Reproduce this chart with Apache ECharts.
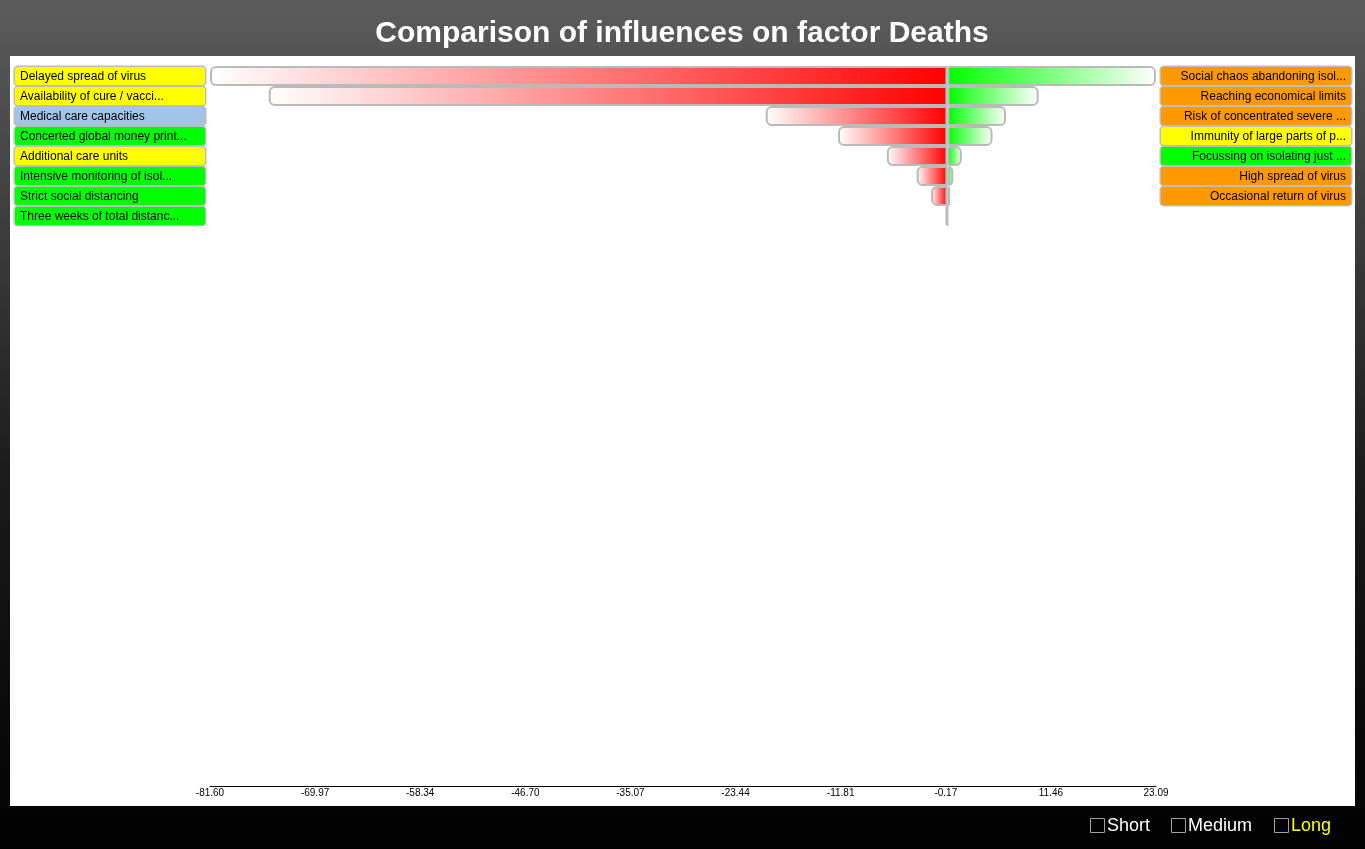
<!DOCTYPE html>
<html>
<head>
<meta charset="utf-8">
<script src="https://cdn.jsdelivr.net/npm/echarts@6/dist/echarts.min.js"></script>
<style>
html,body{margin:0;padding:0;width:1365px;height:849px;overflow:hidden;background:#000;}
#chart{width:1365px;height:849px;}
</style>
</head>
<body>
<div id="chart"></div>
<script>
// ---- data ----
const titleText = 'Comparison of influences on factor Deaths';
const leftCategories = ['Delayed spread of virus', 'Availability of cure / vacci...', 'Medical care capacities', 'Concerted global money print...', 'Additional care units', 'Intensive monitoring of isol...', 'Strict social distancing', 'Three weeks of total distanc...'];
const leftColors = ['yellow', 'yellow', 'blue', 'green', 'yellow', 'green', 'green', 'green'];
const rightCategories = ['Social chaos abandoning isol...', 'Reaching economical limits', 'Risk of concentrated severe ...', 'Immunity of large parts of p...', 'Focussing on isolating just ...', 'High spread of virus', 'Occasional return of virus', ''];
const rightColors = ['orange', 'orange', 'orange', 'yellow', 'green', 'orange', 'orange', 'none'];
const negativeValues = [-81.6, -75.1, -20.1, -12.1, -6.7, -3.4, -1.8, -0.2];
const positiveValues = [23.09, 10.1, 6.5, 5.0, 1.6, 0.65, 0.3, 0.02];
const tickValues = [-81.60, -69.97, -58.34, -46.70, -35.07, -23.44, -11.81, -0.17, 11.46, 23.09];
const tickLabels = ['-81.60', '-69.97', '-58.34', '-46.70', '-35.07', '-23.44', '-11.81', '-0.17', '11.46', '23.09'];
const axisMin = -81.6, axisMax = 23.09;
const toggles = ['Short', 'Medium', 'Long'];
const activeToggle = 'Long';

// ---- styles ----
const palette = {yellow: '#ffff00', blue: '#a2c4e9', green: '#00ff00', orange: '#ff9900'};
const FONT = '"Liberation Sans", Arial, Helvetica, sans-serif';
function richFor(align) {
  const r = {};
  Object.keys(palette).forEach(k => {
    r[k] = {
      backgroundColor: palette[k], width: 180, height: 17, lineHeight: 17,
      padding: [1, 5, 0, 5], borderColor: '#bdbdbd', borderWidth: 1.5, borderRadius: 3,
      align: align, color: '#000', fontSize: 12, fontFamily: FONT
    };
  });
  r.none = {width: 0, height: 0};
  return r;
}

const chart = echarts.init(document.getElementById('chart'), null, {renderer: 'canvas'});

const toggleGraphics = [];
const toggleX = [1090, 1171, 1274];
toggles.forEach((t, i) => {
  toggleGraphics.push({type: 'rect', shape: {x: toggleX[i] + 0.5, y: 818.5, width: 14, height: 14},
    style: {fill: 'none', stroke: '#a0a0a0', lineWidth: 1}, silent: true});
  toggleGraphics.push({type: 'text', x: toggleX[i] + 17, y: 826,
    style: {text: t, fill: t === activeToggle ? '#ffff00' : '#ffffff', font: '18px ' + FONT, verticalAlign: 'middle'}, silent: true});
});

const option = {
  animation: false,
  backgroundColor: {type: 'linear', x: 0, y: 0, x2: 0, y2: 1,
    colorStops: [{offset: 0, color: '#5c5c5c'}, {offset: 0.55, color: '#1c1c1c'}, {offset: 1, color: '#000000'}]},
  graphic: [
    {type: 'rect', z: -10, shape: {x: 10, y: 56, width: 1345, height: 750}, style: {fill: '#ffffff'}, silent: true},
    {type: 'text', x: 682, y: 34, style: {text: titleText, fill: '#fff', font: 'bold 30px ' + FONT, align: 'center', verticalAlign: 'middle'}, silent: true}
  ].concat(toggleGraphics),
  grid: [
    {left: 210, right: 209, top: 66, height: 160, containLabel: false},
    {left: 210, right: 209, top: 700, bottom: 63, containLabel: false}
  ],
  xAxis: [
    {gridIndex: 0, type: 'value', min: axisMin, max: axisMax, show: false, splitLine: {show: false}},
    {gridIndex: 1, type: 'value', min: axisMin, max: axisMax,
      axisLine: {show: true, onZero: false, lineStyle: {color: '#000', width: 1}},
      axisTick: {show: false}, splitLine: {show: false},
      axisLabel: {customValues: tickValues, fontSize: 10, color: '#000', fontFamily: FONT, margin: 2,
        formatter: v => { const i = tickValues.findIndex(t => Math.abs(t - v) < 1e-6); return i >= 0 ? tickLabels[i] : ''; }}}
  ],
  yAxis: [
    {gridIndex: 0, type: 'category', inverse: true, data: leftCategories, position: 'left',
      axisLine: {show: false}, axisTick: {show: false}, splitLine: {show: false},
      axisLabel: {margin: 5, interval: 0, formatter: (v, i) => '{' + leftColors[i] + '|' + v + '}', rich: richFor('left')}},
    {gridIndex: 0, type: 'category', inverse: true, data: rightCategories, position: 'right',
      axisLine: {show: false}, axisTick: {show: false}, splitLine: {show: false},
      axisLabel: {margin: 5, interval: 0, formatter: (v, i) => v ? '{' + rightColors[i] + '|' + v + '}' : '', rich: richFor('right')}},
    {gridIndex: 1, type: 'value', show: false}
  ],
  series: [
    {type: 'bar', name: 'negative', xAxisIndex: 0, yAxisIndex: 0, data: negativeValues,
      barWidth: 20, barGap: '-100%',
      itemStyle: {
        color: {type: 'linear', x: 0, y: 0, x2: 1, y2: 0, colorStops: [{offset: 0, color: '#ffffff'}, {offset: 1, color: '#ff0000'}]},
        borderColor: '#bababa', borderWidth: 2, borderRadius: [5, 0, 0, 5]
      }},
    {type: 'bar', name: 'positive', xAxisIndex: 0, yAxisIndex: 0, data: positiveValues,
      barWidth: 20, barGap: '-100%',
      itemStyle: {
        color: {type: 'linear', x: 0, y: 0, x2: 1, y2: 0, colorStops: [{offset: 0, color: '#00ff00'}, {offset: 1, color: '#ffffff'}]},
        borderColor: '#bababa', borderWidth: 2, borderRadius: [0, 5, 5, 0]
      }}
  ]
};
chart.setOption(option);
</script>
</body>
</html>
